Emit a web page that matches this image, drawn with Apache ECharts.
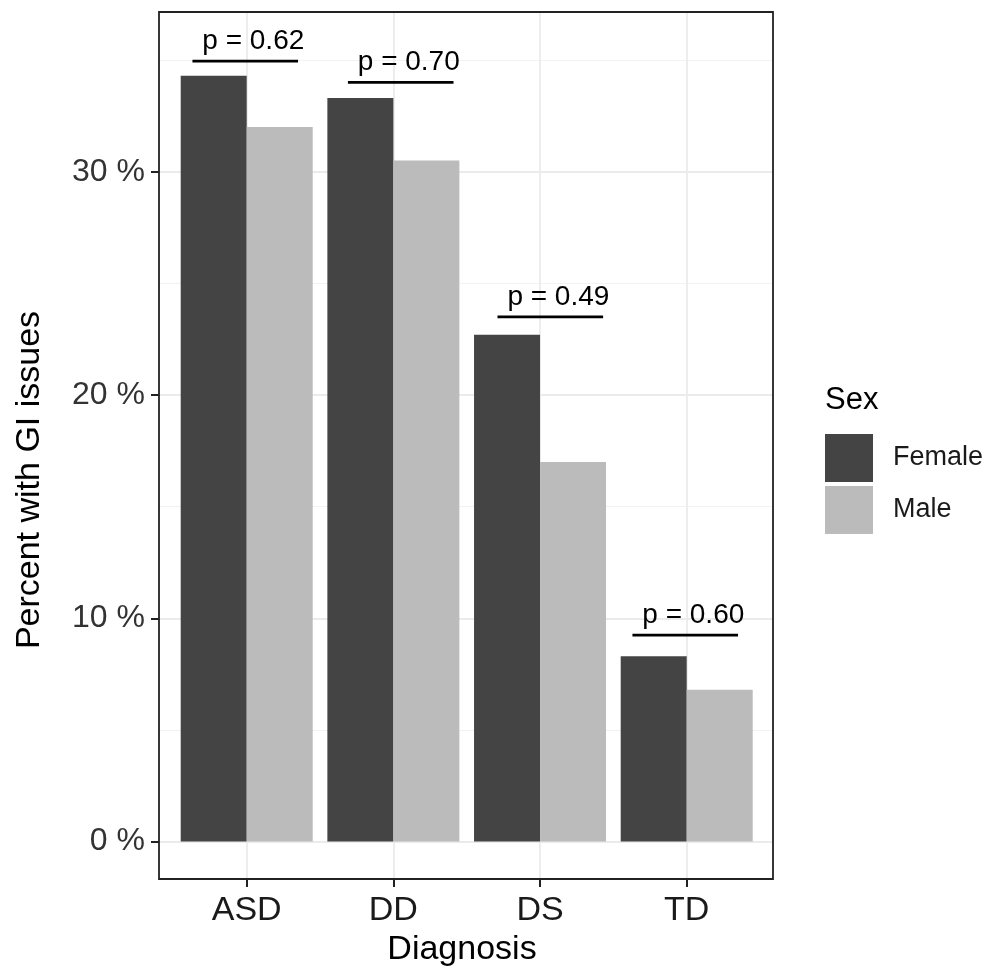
<!DOCTYPE html>
<html>
<head>
<meta charset="utf-8">
<script src="https://cdn.jsdelivr.net/npm/echarts@6/dist/echarts.min.js"></script>
<style>
  html, body { margin: 0; padding: 0; background: #fff; }
  #main { width: 997px; height: 971px; }
</style>
</head>
<body>
<div id="main"></div>
<script>
// data
var categories = ['ASD', 'DD', 'DS', 'TD'];
var femalePct = [34.3, 33.3, 22.7, 8.3];
var malePct = [32.0, 30.5, 17.0, 6.8];
var pLabels = ['p = 0.62', 'p = 0.70', 'p = 0.49', 'p = 0.60'];
var bracketPct = [34.95, 34.0, 23.5, 9.25];
var bracketShift = [-0.01, 0.05, 0.07, -0.01];
var yTicks = [0, 10, 20, 30];

// panel layout (px)
var FONT = 'Liberation Sans, Arial, Helvetica, sans-serif';
var panel = { left: 159, top: 12, right: 773, bottom: 879 };
var y0 = 841.6;      // pixel row of 0 %
var pxPerPct = 22.33;
var yTopPct = 40;
var catLeft = 246.7, catRight = 686.7;

var myChart = echarts.init(document.getElementById('main'));

var option = {
  backgroundColor: '#fff',
  animation: false,
  textStyle: { fontFamily: FONT },
  grid: [
    // frame
    { left: panel.left, top: panel.top, width: panel.right - panel.left, height: panel.bottom - panel.top,
      show: true, borderColor: '#222', borderWidth: 1.8, backgroundColor: 'transparent', outerBoundsMode: 'none', z: 3 },
    // y axis + horizontal grid lines
    { left: panel.left, top: y0 - yTopPct * pxPerPct, width: panel.right - panel.left, height: yTopPct * pxPerPct,
      outerBoundsMode: 'none' },
    // bars
    { left: catLeft, top: panel.top, width: catRight - catLeft, height: panel.bottom - panel.top,
      outerBoundsMode: 'none' }
  ],
  xAxis: [
    { gridIndex: 0, type: 'value', show: false },
    { gridIndex: 1, type: 'value', show: false },
    {
      gridIndex: 2, type: 'category', data: categories, boundaryGap: false,
      position: 'bottom',
      axisLine: { show: false, onZero: false },
      axisTick: { show: true, length: 8, lineStyle: { color: '#222', width: 2 } },
      axisLabel: { fontSize: 34, color: '#1a1a1a', margin: 15, fontFamily: FONT },
      splitLine: { show: true, lineStyle: { color: '#ebebeb', width: 1.8 } }
    }
  ],
  yAxis: [
    { gridIndex: 0, type: 'value', show: false },
    {
      gridIndex: 1, type: 'value', min: 0, max: yTopPct, interval: 10,
      axisLine: { show: false },
      axisTick: { show: true, length: 8, lineStyle: { color: '#222', width: 2 } },
      axisLabel: {
        fontSize: 32, color: '#333', margin: 14, fontFamily: FONT,
        formatter: function (v) { return yTicks.indexOf(v) >= 0 ? v + ' %' : ''; }
      },
      splitLine: { show: true, lineStyle: { color: '#ebebeb', width: 1.8 } },
      minorTick: { show: false, splitNumber: 2 },
      minorSplitLine: { show: true, lineStyle: { color: '#f2f2f2', width: 1 } }
    },
    {
      gridIndex: 2, type: 'value', show: false,
      min: -(panel.bottom - y0) / pxPerPct,
      max: (y0 - panel.top) / pxPerPct
    }
  ],
  legend: {
    orient: 'vertical', left: 825, top: 434, padding: 0,
    itemWidth: 48, itemHeight: 48, itemGap: 4,
    icon: 'rect',
    data: ['Female', 'Male'],
    textStyle: { fontSize: 27, color: '#1a1a1a', fontFamily: FONT, padding: [0, 0, 0, 15] }
  },
  graphic: [
    { type: 'text', x: 30, y: 480, rotation: Math.PI / 2,
      style: { text: 'Percent with GI issues', font: '34px ' + FONT, fill: '#000', align: 'center', verticalAlign: 'middle' } },
    { type: 'text', x: 462, y: 950,
      style: { text: 'Diagnosis', font: '34px ' + FONT, fill: '#000', align: 'center', verticalAlign: 'middle' } },
    { type: 'text', x: 825, y: 400,
      style: { text: 'Sex', font: '31px ' + FONT, fill: '#000', align: 'left', verticalAlign: 'middle' } }
  ],
  series: [
    {
      name: 'Female', type: 'bar', xAxisIndex: 2, yAxisIndex: 2,
      barWidth: '45%', barGap: '0%',
      itemStyle: { color: '#444444' },
      data: femalePct
    },
    {
      name: 'Male', type: 'bar', xAxisIndex: 2, yAxisIndex: 2,
      barWidth: '45%', barGap: '0%',
      itemStyle: { color: '#bbbbbb' },
      data: malePct
    },
    {
      // significance brackets with p values
      name: 'p', type: 'custom', xAxisIndex: 2, yAxisIndex: 2, z: 5,
      data: categories.map(function (c, i) { return [i, bracketPct[i]]; }),
      renderItem: function (params, api) {
        var i = api.value(0);
        var pt = api.coord([i, api.value(1)]);
        var band = api.size([1, 0])[0];
        var cx = pt[0] + bracketShift[i] * band;
        return {
          type: 'group',
          children: [
            { type: 'line',
              shape: { x1: cx - 0.36 * band, y1: pt[1], x2: cx + 0.36 * band, y2: pt[1] },
              style: { stroke: '#000', lineWidth: 2.8 } },
            { type: 'text', x: cx + 0.055 * band, y: pt[1] - 20,
              style: { text: pLabels[i], font: '28px ' + FONT, fill: '#000', align: 'center', verticalAlign: 'middle' } }
          ]
        };
      }
    }
  ]
};

myChart.setOption(option);
</script>
</body>
</html>
